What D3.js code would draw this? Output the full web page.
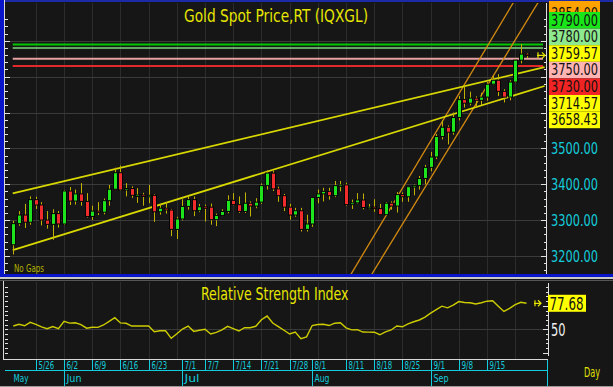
<!DOCTYPE html>
<html>
<head>
<meta charset="utf-8">
<script src="https://cdn.jsdelivr.net/npm/d3@7"></script>
<style>
  html, body { margin: 0; padding: 0; background: #161616; }
  svg { display: block; }
  text { font-family: "Liberation Sans Narrow", "Arial Narrow", "DejaVu Sans Condensed", sans-serif; font-stretch: condensed; }
</style>
</head>
<body>
<svg id="chart" width="613" height="387"></svg>
<script>
// --- data ---
const dates = [
  '5/20','5/21','5/22','5/23','5/26','5/27','5/28','5/29','5/30',
  '6/2','6/3','6/4','6/5','6/6','6/9','6/10','6/11','6/12','6/13','6/16','6/17','6/18','6/19','6/20','6/23','6/24','6/25','6/26','6/27','6/30',
  '7/1','7/2','7/3','7/4','7/7','7/8','7/9','7/10','7/11','7/14','7/15','7/16','7/17','7/18','7/21','7/22','7/23','7/24','7/25','7/28','7/29','7/30','7/31',
  '8/1','8/4','8/5','8/6','8/7','8/8','8/11','8/12','8/13','8/14','8/15','8/18','8/19','8/20','8/21','8/22','8/25','8/26','8/27','8/28','8/29',
  '9/1','9/2','9/3','9/4','9/5','9/8','9/9','9/10','9/11','9/12','9/15','9/16','9/17','9/18','9/19','9/22','9/23','9/24'
];
const open = [
  3231,3290,3314,3294,3357,3342,3300,3288,3318,
  3289,3381,3353,3373,3352,3310,3325,3322,3354,3386,3432,3384,3388,3369,3370,3368,3369,3323,3333,3328,3274,
  3303,3338,3357,3326,3337,3336,3301,3313,3324,3355,3343,3324,3347,3339,3350,3396,3431,3387,3368,3336,3314,3326,3274,
  3289,3363,3373,3380,3368,3396,3398,3343,3348,3356,3335,3336,3332,3315,3347,3339,3371,3365,3393,3396,3416,
  3447,3476,3533,3559,3545,3586,3636,3626,3640,3634,3643,3679,3690,3659,3643,3685,3746,3763
];
const high = [
  3298,3325,3345,3366,3365,3350,3325,3330,3325,
  3384,3392,3385,3403,3375,3340,3350,3360,3398,3446,3452,3403,3394,3389,3376,3398,3372,3345,3350,3331,3309,
  3358,3365,3366,3345,3343,3346,3318,3330,3369,3375,3366,3377,3352,3361,3402,3439,3438,3393,3373,3345,3334,3334,3315,
  3364,3385,3390,3390,3409,3409,3404,3357,3375,3374,3345,3358,3345,3350,3352,3378,3377,3394,3399,3423,3454,
  3490,3540,3578,3564,3600,3646,3674,3658,3645,3655,3685,3703,3707,3665,3690,3749,3791,3766
];
const low = [
  3204,3284,3278,3287,3331,3285,3276,3245,3279,
  3286,3342,3343,3340,3307,3300,3314,3316,3340,3385,3382,3366,3362,3348,3340,3347,3295,3315,3318,3255,3247,
  3299,3329,3311,3322,3296,3287,3283,3311,3319,3341,3320,3320,3310,3333,3345,3385,3381,3351,3325,3301,3309,3268,3268,
  3281,3347,3352,3357,3364,3380,3340,3331,3346,3330,3330,3323,3314,3312,3329,3321,3351,3351,3369,3385,3400,
  3436,3470,3525,3511,3538,3578,3614,3620,3613,3620,3633,3677,3646,3628,3634,3682,3737,3752
];
const close = [
  3290,3314,3294,3357,3342,3300,3288,3318,3289,
  3381,3353,3373,3352,3310,3325,3322,3354,3386,3432,3384,3388,3369,3370,3368,3369,3323,3333,3328,3274,3303,
  3338,3357,3326,3337,3336,3301,3313,3324,3355,3343,3324,3347,3339,3350,3396,3431,3387,3368,3336,3314,3326,3274,3289,
  3363,3373,3380,3368,3396,3398,3343,3348,3356,3335,3336,3332,3315,3347,3339,3371,3365,3393,3396,3416,3447,
  3476,3533,3559,3545,3586,3636,3626,3640,3634,3643,3679,3690,3659,3643,3685,3746,3763,3759.57
];
const rsi = [
  53.5,55.3,53.8,57.4,55.3,52.5,50.7,53.0,50.7,
  58.5,56.6,57.0,55.0,51.2,52.2,52.1,54.6,58.5,62.3,56.8,56.4,53.5,53.5,53.5,53.5,47.5,48.5,48.5,40.4,45.3,
  50.3,53.5,47.8,49.0,50.0,45.0,46.7,49.3,53.2,50.7,48.2,51.7,51.7,53.2,60.2,64.1,56.7,52.8,49.0,45.0,47.1,40.1,42.0,
  54.0,55.1,55.3,54.0,56.5,57.0,51.6,49.4,49.6,47.1,47.0,46.9,44.2,47.3,49.3,53.5,52.7,55.8,58.0,59.9,63.0,
  67.2,70.9,74.6,72.8,75.8,79.5,78.5,78.3,76.9,78.3,79.9,80.4,74.6,69.0,72.3,76.2,78.7,77.68
];

// horizontal levels and drawn trend lines (date, price)
const levels = [3790, 3780, 3750, 3730];
const levelColors = ['#00c800', '#7ed87e', '#e6a2a2', '#e02a2a'];
const trendUpper = [['5/20', 3374.5], ['9/24', 3714.57]];
const trendLower = [['5/20', 3216.7], ['9/24', 3658.43]];
const orangeLeft = [['8/12', 3152], ['9/19', 3889]];
const orangeRight = [['8/18', 3160], ['9/24', 3854]];

const priceTicks = [3200, 3300, 3400, 3500, 3600, 3700, 3800];
const mondays = ['5/26','6/2','6/9','6/16','6/23','6/30','7/7','7/14','7/21','7/28','8/4','8/11','8/18','8/25','9/1','9/8','9/15','9/22'];
const dateTicks = ['5/26','6/2','6/9','6/16','6/23','7/1','7/7','7/14','7/21','7/28','8/1','8/11','8/18','8/25','9/1','9/8','9/15'];
const months = [['May', null], ['Jun', '6/2'], ['Jul', '7/1'], ['Aug', '8/1'], ['Sep', '9/1']];

// right-hand value boxes: value + colour
const lastClose = close[close.length - 1];
const boxes = [
  [orangeRight[1][1], '#ffa200'],
  [levels[0], '#19e619'],
  [levels[1], '#8ee88e'],
  [lastClose, '#ffff00'],
  [levels[2], '#ffb4b4'],
  [levels[3], '#f02424'],
  [trendUpper[1][1], '#ffff00'],
  [trendLower[1][1], '#ffff00']
];

// --- scales ---
const svg = d3.select('#chart');
const plot = { left: 5, right: 546, top: 3, bottom: 274 };
const x = d3.scalePoint().domain(dates).range([13.3, 526.5]);
const xi = d3.scaleLinear().domain([0, dates.length - 1]).range([13.3, 526.5]);
const y = d3.scaleLinear().domain([3200, 3790]).range([255.9, 44.4]);
const yr = d3.scaleLinear().domain([50, 100]).range([329.3, 282.3]);
const fmt = d3.format('.2f');
const cyan = '#14cddc';
const yellow = '#e6e600';
const boxH = 16.6, boxTop = 12;
const boxesBottom = boxTop + (boxes.length - 1) * boxH;

svg.append('rect').attr('width', 613).attr('height', 387).attr('fill', '#161616');

// --- frame ---
svg.append('rect').attr('x', 0).attr('y', 0).attr('width', 613).attr('height', 2).attr('fill', '#1c2aa8');
svg.append('rect').attr('x', 0).attr('y', 0).attr('width', 4).attr('height', 277).attr('fill', '#0a14c8');
svg.append('line').attr('x1', 4.5).attr('x2', 4.5).attr('y1', 0).attr('y2', 277).attr('stroke', '#d8d8d8');
svg.append('rect').attr('x', 0).attr('y', 274).attr('width', 613).attr('height', 3).attr('fill', '#0a14c8');
svg.append('rect').attr('x', 0).attr('y', 277).attr('width', 613).attr('height', 2).attr('fill', '#c8c8c8');
svg.append('rect').attr('x', 0).attr('y', 280).attr('width', 613).attr('height', 1).attr('fill', '#555');

svg.append('defs').append('clipPath').attr('id', 'plotClip')
  .append('rect').attr('x', plot.left).attr('y', plot.top)
  .attr('width', plot.right - plot.left).attr('height', plot.bottom - plot.top);

// --- main panel grid ---
const grid = svg.append('g').attr('shape-rendering', 'crispEdges');
grid.selectAll('line.v').data(mondays).join('line')
  .attr('x1', d => Math.round(x(d)) + 0.5).attr('x2', d => Math.round(x(d)) + 0.5)
  .attr('y1', plot.top).attr('y2', plot.bottom).attr('stroke', '#2c2c2c');
grid.selectAll('line.h').data(priceTicks).join('line')
  .attr('x1', plot.left).attr('x2', plot.right)
  .attr('y1', d => Math.round(y(d)) + 0.5).attr('y2', d => Math.round(y(d)) + 0.5)
  .attr('stroke', '#3a3a3a');

// axis ticks left and right
const minor = d3.range(3160, 3880, 20).filter(p => y(p) > plot.top + 1 && y(p) < plot.bottom - 1);
const axisG = svg.append('g').attr('shape-rendering', 'crispEdges').attr('stroke', '#e0e0e0');
axisG.selectAll('line.lt').data(minor).join('line')
  .attr('x1', 5).attr('x2', p => p % 100 === 0 ? 10 : 8)
  .attr('y1', p => Math.round(y(p)) + 0.5).attr('y2', p => Math.round(y(p)) + 0.5);
axisG.append('line').attr('x1', 546.5).attr('x2', 546.5).attr('y1', plot.top).attr('y2', plot.bottom);
axisG.selectAll('line.rt').data(minor).join('line')
  .attr('x1', p => p % 100 === 0 ? 541 : 543.5).attr('x2', 546.5)
  .attr('y1', p => Math.round(y(p)) + 0.5).attr('y2', p => Math.round(y(p)) + 0.5);

// --- lines inside the plot ---
const lines = svg.append('g').attr('clip-path', 'url(#plotClip)');

lines.selectAll('line.level').data(levels).join('line')
  .attr('x1', xi(-0.1)).attr('x2', 543)
  .attr('y1', d => y(d)).attr('y2', d => y(d))
  .attr('stroke', (d, i) => levelColors[i])
  .attr('stroke-width', (d, i) => i === 1 ? 1.4 : 2);

function extend(seg, i0, i1) {
  const a = dates.indexOf(seg[0][0]), b = dates.indexOf(seg[1][0]);
  const k = (seg[1][1] - seg[0][1]) / (b - a);
  return [i0, i1].map(i => [xi(i), y(seg[0][1] + k * (i - a))]);
}
const lineGen = d3.line();
[orangeLeft, orangeRight].forEach(seg => {
  lines.append('path').attr('d', lineGen(extend(seg, 40, 100)))
    .attr('fill', 'none').attr('stroke', '#d48a10').attr('stroke-width', 1.3);
});
[trendUpper, trendLower].forEach(seg => {
  lines.append('path').attr('d', lineGen(extend(seg, -0.1, 94.2)))
    .attr('fill', 'none').attr('stroke', '#d8d800').attr('stroke-width', 1.8);
});

// --- candles ---
const candles = svg.append('g').attr('clip-path', 'url(#plotClip)');
const bars = dates.map((d, i) => ({ d, o: open[i], h: high[i], l: low[i], c: close[i] }));
candles.selectAll('line.wick').data(bars).join('line')
  .attr('x1', b => Math.round(x(b.d)) + 0.5).attr('x2', b => Math.round(x(b.d)) + 0.5)
  .attr('y1', b => y(b.h)).attr('y2', b => y(b.l))
  .attr('stroke', '#c2b200').attr('stroke-width', 1);
candles.selectAll('rect.body').data(bars).join('rect')
  .attr('x', b => Math.round(x(b.d)) - 1.5)
  .attr('width', 4)
  .attr('y', b => Math.min(y(b.o), y(b.c)))
  .attr('height', b => Math.max(1.5, Math.abs(y(b.o) - y(b.c))))
  .attr('fill', b => b.c >= b.o ? '#1ee41e' : '#f02c2c')
  .attr('stroke', '#050505').attr('stroke-width', 1);

// last price arrow
const ly = y(lastClose);
svg.append('path').attr('d', `M537,${ly} h8 M542,${ly - 3} l3,3 l-3,3 M538,${ly - 3} v6`)
  .attr('stroke', yellow).attr('stroke-width', 1.2).attr('fill', 'none');

// titles and labels
svg.append('text').attr('x', 184).attr('y', 22).attr('font-size', 18)
  .attr('textLength', 184).attr('lengthAdjust', 'spacingAndGlyphs')
  .attr('fill', yellow).text('Gold Spot Price,RT (IQXGL)');
svg.append('text').attr('x', 14).attr('y', 272).attr('font-size', 10)
  .attr('textLength', 30).attr('lengthAdjust', 'spacingAndGlyphs')
  .attr('fill', '#b4b400').text('No Gaps');

// price tick labels (those under the value boxes are hidden in the original)
svg.selectAll('text.ptick').data(priceTicks.filter(p => y(p) - 8 > boxesBottom)).join('text')
  .attr('x', 551).attr('y', d => y(d) + 6).attr('font-size', 16.5)
  .attr('textLength', 47).attr('lengthAdjust', 'spacingAndGlyphs')
  .attr('fill', cyan).text(d => fmt(d));

// value boxes, drawn top to bottom so each covers the one above
const boxG = svg.append('g');
boxes.forEach(([v, col], k) => {
  const top = k === 0 ? 1 : boxTop + (k - 1) * boxH;
  boxG.append('rect').attr('x', 549).attr('y', top).attr('width', 51).attr('height', boxH)
    .attr('fill', col);
  boxG.append('text').attr('x', 551).attr('y', (k === 0 ? 5 : top) + 13.6).attr('font-size', 15.5)
    .attr('textLength', 47).attr('lengthAdjust', 'spacingAndGlyphs')
    .attr('fill', '#111').text(fmt(v));
});

// --- RSI panel ---
const rsiTop = 282, rsiBottom = 359;
const rg = svg.append('g').attr('shape-rendering', 'crispEdges');
rg.selectAll('line.v').data(mondays).join('line')
  .attr('x1', d => Math.round(x(d)) + 0.5).attr('x2', d => Math.round(x(d)) + 0.5)
  .attr('y1', rsiTop).attr('y2', rsiBottom).attr('stroke', '#2c2c2c');
rg.append('line').attr('x1', 5).attr('x2', 548).attr('y1', Math.round(yr(50)) + 0.5).attr('y2', Math.round(yr(50)) + 0.5)
  .attr('stroke', '#3a3a3a');
rg.append('line').attr('x1', 3.5).attr('x2', 3.5).attr('y1', 281).attr('y2', rsiBottom).attr('stroke', '#d8d8d8');
rg.append('line').attr('x1', 3).attr('x2', 548).attr('y1', rsiBottom + 0.5).attr('y2', rsiBottom + 0.5).attr('stroke', '#d8d8d8');
const rTicks = d3.range(25, 101, 5).filter(v => yr(v) > rsiTop + 2 && yr(v) < rsiBottom - 3);
rg.selectAll('line.rl').data(rTicks).join('line')
  .attr('x1', 5).attr('x2', 8).attr('y1', v => Math.round(yr(v)) + 0.5).attr('y2', v => Math.round(yr(v)) + 0.5)
  .attr('stroke', '#e0e0e0');
rg.append('line').attr('x1', 548.5).attr('x2', 548.5).attr('y1', 283).attr('y2', 356).attr('stroke', '#e0e0e0');
rg.selectAll('line.rr').data(rTicks).join('line')
  .attr('x1', v => v % 25 === 0 ? 543 : 545.5).attr('x2', 548.5)
  .attr('y1', v => Math.round(yr(v)) + 0.5).attr('y2', v => Math.round(yr(v)) + 0.5)
  .attr('stroke', '#e0e0e0');

svg.append('path')
  .attr('d', d3.line().x((v, i) => x(dates[i])).y(v => yr(v))(rsi))
  .attr('fill', 'none').attr('stroke', '#cccc00').attr('stroke-width', 1.4);

svg.append('text').attr('x', 201).attr('y', 299.5).attr('font-size', 18)
  .attr('textLength', 147.5).attr('lengthAdjust', 'spacingAndGlyphs')
  .attr('fill', yellow).text('Relative Strength Index');

const ry = yr(rsi[rsi.length - 1]);
svg.append('path').attr('d', `M534,${ry} h7 M538,${ry - 3} l3,3 l-3,3 M535,${ry - 3} v6`)
  .attr('stroke', yellow).attr('stroke-width', 1.2).attr('fill', 'none');
svg.append('rect').attr('x', 548).attr('y', ry - 8.5).attr('width', 38).attr('height', 17).attr('fill', '#ffff00');
svg.append('text').attr('x', 549.5).attr('y', ry + 6.5).attr('font-size', 17)
  .attr('textLength', 34).attr('lengthAdjust', 'spacingAndGlyphs')
  .attr('fill', '#111').text(fmt(rsi[rsi.length - 1]));
svg.append('text').attr('x', 551).attr('y', yr(50) + 6.5).attr('font-size', 17)
  .attr('textLength', 14.5).attr('lengthAdjust', 'spacingAndGlyphs')
  .attr('fill', '#f0f0f0').text('50');

// --- date axis ---
const ax = svg.append('g').attr('shape-rendering', 'crispEdges');
ax.append('line').attr('x1', 5).attr('x2', 547).attr('y1', 370.5).attr('y2', 370.5).attr('stroke', cyan);
ax.append('line').attr('x1', 547.5).attr('x2', 547.5).attr('y1', 360).attr('y2', 386).attr('stroke', cyan);
ax.selectAll('line.dt').data(dateTicks).join('line')
  .attr('x1', d => Math.round(x(d)) + 0.5).attr('x2', d => Math.round(x(d)) + 0.5)
  .attr('y1', 360).attr('y2', 370).attr('stroke', cyan);
svg.selectAll('text.dt').data(dateTicks).join('text')
  .attr('x', d => Math.round(x(d)) + 2.5).attr('y', 369).attr('font-size', 10)
  .attr('textLength', d => d.length * 3.9).attr('lengthAdjust', 'spacingAndGlyphs')
  .attr('fill', cyan).text(d => d);
ax.selectAll('line.mt').data(months.filter(m => m[1])).join('line')
  .attr('x1', m => Math.round(x(m[1])) + 0.5).attr('x2', m => Math.round(x(m[1])) + 0.5)
  .attr('y1', 370).attr('y2', 386).attr('stroke', cyan);
svg.selectAll('text.mt').data(months).join('text')
  .attr('x', m => m[1] ? Math.round(x(m[1])) + 2.5 : 13.5).attr('y', 382).attr('font-size', 10)
  .attr('textLength', 15).attr('lengthAdjust', 'spacingAndGlyphs')
  .attr('fill', cyan).text(m => m[0]);
svg.append('text').attr('x', 584).attr('y', 377).attr('font-size', 14)
  .attr('textLength', 16).attr('lengthAdjust', 'spacingAndGlyphs')
  .attr('fill', '#e0e000').text('Day');
svg.append('rect').attr('x', 0).attr('y', 386).attr('width', 613).attr('height', 1).attr('fill', '#9a9a9a');
</script>
</body>
</html>
